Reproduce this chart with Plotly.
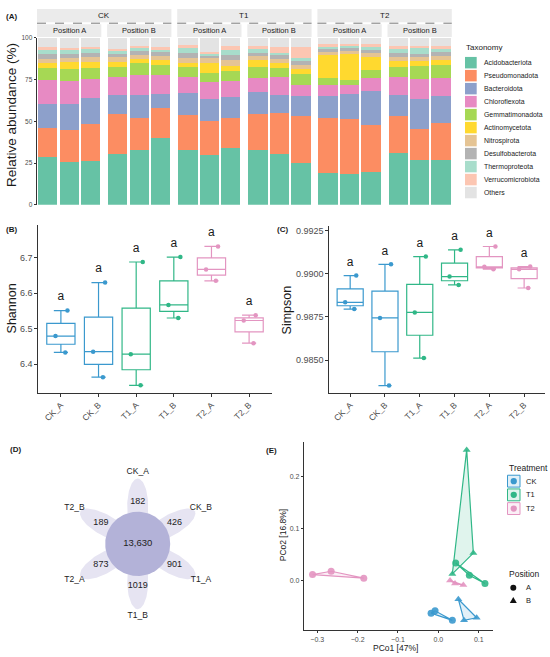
import numpy as np
import plotly.graph_objects as go

W, H = 550, 657
FONT = "Arial, 'Liberation Sans', sans-serif"


def px(x):
    return x / W


def py(y):
    return 1 - y / H


# (A) relative abundance (%), 18 samples: CK/T1/T2 x Position A/B x 3 reps
taxa = ["Acidobacteriota", "Pseudomonadota", "Bacteroidota", "Chloroflexota",
        "Gemmatimonadota", "Actinomycetota", "Nitrospirota", "Desulfobacterota",
        "Thermoproteota", "Verrucomicrobiota", "Others"]
taxa_colors = ["#66C2A5", "#FC8D62", "#8DA0CB", "#E78AC3", "#A6D854", "#FFD92F",
               "#E5C494", "#B3B3B3", "#A8DDCB", "#FCC6B2", "#E3E3E3"]
treatments = ["CK", "T1", "T2"]
positions = ["Position A", "Position B"]

acidobacteriota = [28.8, 25.4, 26.2, 30.2, 32.7, 39.8, 32.9, 29.8, 34.1,
                   32.5, 30.2, 25.0, 19.1, 18.7, 19.5, 31.0, 26.6, 27.0]
pseudomonadota = [17.2, 19.2, 22.1, 24.4, 19.4, 18.0, 21.1, 20.5, 17.8,
                  21.9, 25.0, 28.3, 32.8, 32.4, 28.0, 22.1, 18.6, 22.1]
bacteroidota = [14.4, 15.8, 15.6, 11.3, 13.8, 8.5, 13.1, 13.0, 12.6,
                13.1, 10.3, 11.8, 13.2, 15.2, 20.4, 12.6, 18.3, 15.8]
chloroflexota = [14.2, 13.8, 11.6, 10.4, 11.8, 11.2, 9.4, 10.3, 9.7,
                 8.6, 10.8, 6.7, 6.7, 5.1, 7.8, 11.0, 11.8, 11.0]
gemmatimonadota = [7.3, 7.3, 6.4, 5.9, 6.9, 6.3, 5.7, 5.5, 5.7,
                   6.3, 5.8, 6.7, 3.9, 3.4, 5.0, 5.9, 7.7, 7.5]
actinomycetota = [2.7, 3.9, 3.5, 3.2, 2.6, 2.8, 2.8, 5.5, 3.1,
                  4.0, 2.7, 2.8, 13.8, 15.5, 7.7, 3.6, 3.0, 3.2]
nitrospirota = [2.6, 2.4, 2.8, 2.8, 2.3, 2.4, 3.0, 3.0, 3.6,
                2.4, 2.4, 2.3, 2.0, 2.0, 2.3, 2.4, 2.4, 2.6]
desulfobacterota = [2.8, 2.7, 2.5, 2.3, 2.4, 2.3, 2.7, 1.6, 2.9,
                    2.3, 2.3, 2.4, 1.6, 1.6, 2.0, 2.3, 2.1, 2.3]
thermoproteota = [2.7, 2.6, 2.4, 2.0, 2.0, 2.0, 3.0, 1.3, 3.0,
                  2.4, 1.6, 1.6, 1.6, 1.6, 2.0, 2.4, 3.4, 2.0]
verrucomicrobiota = [1.6, 0.8, 1.2, 1.0, 1.2, 1.0, 2.0, 1.2, 2.2,
                     1.6, 3.2, 6.7, 1.2, 0.8, 1.2, 1.6, 1.2, 1.2]
others = [5.7, 6.1, 5.7, 6.5, 4.9, 5.7, 4.3, 8.3, 5.3,
          4.9, 5.7, 5.7, 4.1, 3.7, 4.1, 5.1, 4.9, 5.3]

abundance = [acidobacteriota, pseudomonadota, bacteroidota, chloroflexota,
             gemmatimonadota, actinomycetota, nitrospirota, desulfobacterota,
             thermoproteota, verrucomicrobiota, others]

# (B)/(C) alpha diversity, 3 reps per group
groups = ["CK_A", "CK_B", "T1_A", "T1_B", "T2_A", "T2_B"]
shannon = [6.551, 6.479, 6.433, 6.630, 6.435, 6.363, 6.688, 6.428, 6.340,
           6.702, 6.567, 6.530, 6.732, 6.667, 6.635, 6.538, 6.523, 6.459]
simpson = [0.98989, 0.98834, 0.98795, 0.99054, 0.98744, 0.98353,
           0.99099, 0.98776, 0.98512, 0.99138, 0.98983, 0.98935,
           0.99157, 0.99040, 0.99026, 0.99041, 0.99025, 0.98917]
letters = ["a", "a", "a", "a", "a", "a"]

# (D) flower plot: unique OTUs per sample group and shared core
venn_names = ["CK_A", "CK_B", "T1_A", "T1_B", "T2_A", "T2_B"]
venn_unique = [182, 426, 901, 1019, 873, 189]
venn_core = 13630

# (E) PCoA
pcoa_treatment = ["CK"] * 6 + ["T1"] * 6 + ["T2"] * 6
pcoa_position = (["A"] * 3 + ["B"] * 3) * 3
pcoa_x = [-0.0181, -0.0082, 0.0346, 0.0495, 0.0635, 0.0948,
          0.0429, 0.0767, 0.1154, 0.0701, 0.0866, 0.0346,
          -0.3116, -0.2655, -0.1847, 0.0289, 0.0412, 0.0618]
pcoa_y = [-0.0620, -0.0576, -0.0759, -0.0354, -0.0759, -0.0709,
          0.0342, 0.0108, -0.0051, 0.2513, 0.0532, 0.0133,
          0.0120, 0.0184, 0.0051, 0.0006, -0.0051, -0.0082]

trt_colors = {"CK": "#3B99CE", "T1": "#30B787", "T2": "#E395C1"}
trt_fill = {"CK": "rgba(59,153,206,0.15)", "T1": "rgba(48,183,135,0.15)",
            "T2": "rgba(227,149,193,0.15)"}

fig = go.Figure()
shapes = []
annotations = []


def label(x, y, text, size, color="#1A1A1A", angle=0, anchor="center", bold=False):
    annotations.append(dict(
        x=px(x), y=py(y), xref="paper", yref="paper", text=f"<b>{text}</b>" if bold else text,
        showarrow=False, xanchor=anchor, yanchor="middle", textangle=angle,
        font=dict(size=size, color=color, family=FONT)))


# ---- (A) stacked bars, one x axis per facet
facet_w, facet_gap, facet_left = 64.3, 5.8, 37.0
for f in range(6):
    xname = "x" if f == 0 else f"x{f + 1}"
    for ti, vals in enumerate(abundance):
        fig.add_trace(go.Bar(
            x=[1, 2, 3], y=vals[3 * f:3 * f + 3], width=0.9,
            xaxis=xname, yaxis="y", name=taxa[ti],
            marker=dict(color=taxa_colors[ti], line=dict(width=0)),
            showlegend=False))

axes = {}
for f in range(6):
    left = facet_left + f * (facet_w + facet_gap)
    key = "xaxis" if f == 0 else f"xaxis{f + 1}"
    axes[key] = dict(domain=[px(left), px(left + facet_w)], range=[0.5, 3.5],
                     anchor="y", visible=False)
    # position strip
    shapes.append(dict(type="rect", xref="paper", yref="paper", x0=px(left), x1=px(left + facet_w),
                       y0=py(33.3), y1=py(20.5), fillcolor="#EBEBEB", line=dict(width=0), layer="below"))
    label(left + facet_w / 2, 27.2, positions[f % 2], 7.5)

for t, trt in enumerate(treatments):
    left = facet_left + 2 * t * (facet_w + facet_gap)
    right = left + 2 * facet_w + facet_gap
    shapes.append(dict(type="rect", xref="paper", yref="paper", x0=px(left), x1=px(right),
                       y0=py(18.5), y1=py(5), fillcolor="#EBEBEB", line=dict(width=0), layer="below"))
    shapes.append(dict(type="line", xref="paper", yref="paper", x0=px(left), x1=px(right),
                       y0=py(19.4), y1=py(19.4), line=dict(color="#555555", width=0.8, dash="dash")))
    label((left + right) / 2, 11.8, trt, 8)

axes["yaxis"] = dict(domain=[py(203), py(34)], range=[0, 100], anchor="x",
                     tickvals=[0, 25, 50, 75, 100], ticks="outside", ticklen=2.5,
                     tickcolor="#333333", showline=True, linecolor="#333333", linewidth=0.8,
                     showgrid=False, zeroline=False,
                     tickfont=dict(size=6.5, color="#4D4D4D", family=FONT))
label(11.7, 112.5, "Relative abundance (%)", 13.5, angle=-90)
label(11.7, 12.7, "(A)", 8, bold=True)

# taxonomy legend
label(464.3, 44.3, "Taxonomy", 8, anchor="left")
for i, (name, col) in enumerate(zip(taxa, taxa_colors)):
    yc = 59.3 + i * 13.13
    shapes.append(dict(type="rect", xref="paper", yref="paper", x0=px(465), x1=px(476.7),
                       y0=py(yc + 5.8), y1=py(yc - 5.8), fillcolor=col, line=dict(width=0)))
    label(481.5, yc, name, 6.9, anchor="left")


# ---- (B) and (C) box plots
def box_panel(values, xa, ya, offset):
    for i, g in enumerate(groups):
        trt = g.split("_")[0]
        vals = values[3 * i:3 * i + 3]
        fig.add_trace(go.Box(
            x=[g] * 3, y=vals, xaxis=xa, yaxis=ya, name=g, width=0.75,
            quartilemethod="inclusive", boxpoints="all", jitter=0.6, pointpos=0,
            line=dict(color=trt_colors[trt], width=1.2), fillcolor="rgba(255,255,255,0)",
            marker=dict(color=trt_colors[trt], size=4.5), showlegend=False))
    tops = [max(values[3 * i:3 * i + 3]) + offset for i in range(6)]
    fig.add_trace(go.Scatter(x=groups, y=tops, mode="text", text=letters, xaxis=xa, yaxis=ya,
                             textfont=dict(size=12, color="#1A1A1A", family=FONT),
                             showlegend=False, hoverinfo="skip"))


box_panel(shannon, "x7", "y2", 0.037)
box_panel(simpson, "x8", "y3", 0.00074)

cat_axis = dict(type="category", categoryorder="array", categoryarray=groups,
                range=[-0.6, 5.6], tickangle=-45, ticks="outside", ticklen=3,
                tickcolor="#333333", showline=True, linecolor="#333333", linewidth=1,
                showgrid=False, zeroline=False,
                tickfont=dict(size=8.5, color="#4D4D4D", family=FONT))
num_axis = dict(ticks="outside", ticklen=3, tickcolor="#333333", showline=True,
                linecolor="#333333", linewidth=1, showgrid=False, zeroline=False,
                tickfont=dict(size=9, color="#4D4D4D", family=FONT))

axes["xaxis7"] = dict(cat_axis, domain=[px(38.3), px(271.7)], anchor="y2")
axes["yaxis2"] = dict(num_axis, domain=[py(393), py(223.5)], anchor="x7",
                      range=[6.319, 6.792], tickvals=[6.4, 6.5, 6.6, 6.7], tickformat=".1f")
axes["xaxis8"] = dict(cat_axis, domain=[px(329.3), px(545)], anchor="y3")
axes["yaxis3"] = dict(num_axis, domain=[py(393), py(224.5)], anchor="x8",
                      range=[0.98311, 0.99275], tickvals=[0.985, 0.9875, 0.99, 0.9925],
                      tickformat=".4f")
label(11.7, 308, "Shannon", 12.5, angle=-90)
label(286.7, 309, "Simpson", 12.5, angle=-90)
label(11.7, 227.7, "(B)", 8, bold=True)
label(282.7, 227.7, "(C)", 8, bold=True)

# ---- (D) flower plot
t = np.linspace(0, 2 * np.pi, 100)
for i, name in enumerate(venn_names):
    ang = np.deg2rad(90 - 60 * i)
    ex, ey = 28 * np.cos(t), 10.5 * np.sin(t)
    xs = 38 * np.cos(ang) + ex * np.cos(ang) - ey * np.sin(ang)
    ys = 38 * np.sin(ang) + ex * np.sin(ang) + ey * np.cos(ang)
    fig.add_trace(go.Scatter(x=xs, y=ys, xaxis="x9", yaxis="y4", mode="lines", fill="toself",
                             fillcolor="#E6E4F2", line=dict(width=0), showlegend=False,
                             hoverinfo="skip"))
fig.add_trace(go.Scatter(x=32.5 * np.cos(t), y=32.5 * np.sin(t), xaxis="x9", yaxis="y4",
                         mode="lines", fill="toself", fillcolor="#B3B2D8", line=dict(width=0),
                         showlegend=False, hoverinfo="skip"))
angs = np.deg2rad(90 - 60 * np.arange(6))
fig.add_trace(go.Scatter(
    x=42.5 * np.cos(angs), y=42.5 * np.sin(angs), xaxis="x9", yaxis="y4", mode="text",
    text=[str(v) for v in venn_unique], textfont=dict(size=9, color="#222222", family=FONT),
    showlegend=False, hoverinfo="skip"))
fig.add_trace(go.Scatter(
    x=73 * np.cos(angs), y=73 * np.sin(angs), xaxis="x9", yaxis="y4", mode="text",
    text=venn_names, textfont=dict(size=8.5, color="#222222", family=FONT),
    showlegend=False, hoverinfo="skip"))
fig.add_trace(go.Scatter(x=[0], y=[0], xaxis="x9", yaxis="y4", mode="text",
                         text=[f"{venn_core:,}"], textfont=dict(size=9.5, color="#222222", family=FONT),
                         showlegend=False, hoverinfo="skip"))
axes["xaxis9"] = dict(domain=[px(37.7), px(237.7)], range=[-100, 100], anchor="y4", visible=False)
axes["yaxis4"] = dict(domain=[py(645.7), py(445.7)], range=[-100, 100], anchor="x9", visible=False)
label(15, 450.7, "(D)", 8, bold=True)

# ---- (E) PCoA
for trt in treatments:
    for pos in ["A", "B"]:
        idx = [k for k in range(18) if pcoa_treatment[k] == trt and pcoa_position[k] == pos]
        xs = [pcoa_x[k] for k in idx] + [pcoa_x[idx[0]]]
        ys = [pcoa_y[k] for k in idx] + [pcoa_y[idx[0]]]
        fig.add_trace(go.Scatter(x=xs, y=ys, xaxis="x10", yaxis="y5", mode="lines",
                                 fill="toself", fillcolor=trt_fill[trt],
                                 line=dict(color=trt_colors[trt], width=1.2),
                                 showlegend=False, hoverinfo="skip"))
        fig.add_trace(go.Scatter(
            x=[pcoa_x[k] for k in idx], y=[pcoa_y[k] for k in idx], xaxis="x10", yaxis="y5",
            mode="markers", showlegend=False,
            marker=dict(color=trt_colors[trt], size=7, opacity=0.9,
                        symbol="circle" if pos == "A" else "triangle-up")))

axes["xaxis10"] = dict(num_axis, domain=[px(304.3), px(493.3)], anchor="y5",
                       range=[-0.332, 0.136], tickvals=[-0.3, -0.2, -0.1, 0.0, 0.1],
                       tickformat=".1f", ticklen=2.5,
                       tickfont=dict(size=7, color="#4D4D4D", family=FONT))
axes["yaxis5"] = dict(num_axis, domain=[py(632.7), py(442.7)], anchor="x10",
                      range=[-0.0943, 0.2665], tickvals=[0.0, 0.1, 0.2],
                      tickformat=".1f", ticklen=2.5,
                      tickfont=dict(size=7, color="#4D4D4D", family=FONT))
label(395, 650.5, "PCo1 [47%]", 8.5)
label(283.3, 536.7, "PCo2 [16.8%]", 8.5, angle=-90)
label(271.5, 451.7, "(E)", 8, bold=True)

# PCoA legends
label(507.3, 469, "Treatment", 8.5, anchor="left")
for i, trt in enumerate(treatments):
    yc = 482.3 + i * 13.85
    shapes.append(dict(type="rect", xref="paper", yref="paper", x0=px(507.5), x1=px(520),
                       y0=py(yc + 6), y1=py(yc - 6), fillcolor=trt_fill[trt],
                       line=dict(color=trt_colors[trt], width=1)))
    shapes.append(dict(type="circle", xref="paper", yref="paper", x0=px(510.6), x1=px(516.9),
                       y0=py(yc + 3.15), y1=py(yc - 3.15), fillcolor=trt_colors[trt],
                       line=dict(width=0)))
    label(524, yc, trt, 7.5, anchor="left")

label(506.7, 575.7, "Position", 8.5, anchor="left")
shapes.append(dict(type="circle", xref="paper", yref="paper", x0=px(510.3), x1=px(516.3),
                   y0=py(593), y1=py(587), fillcolor="#111111", line=dict(width=0)))
tri = f"M {px(513.3)} {py(599.3)} L {px(516.8)} {py(605.5)} L {px(509.8)} {py(605.5)} Z"
shapes.append(dict(type="path", xref="paper", yref="paper", path=tri,
                   fillcolor="#111111", line=dict(width=0)))
label(524, 590, "A", 7.5, anchor="left")
label(524, 602.7, "B", 7.5, anchor="left")

fig.update_layout(
    width=W, height=H, margin=dict(l=0, r=0, t=0, b=0),
    paper_bgcolor="white", plot_bgcolor="white",
    barmode="stack", boxmode="overlay", showlegend=False,
    font=dict(family=FONT, color="#1A1A1A"),
    shapes=shapes, annotations=annotations, **axes)

# drop the default 8px page margin so the figure sits at the window's corner
fig.write_html("out.html", config={"displayModeBar": False},
               post_script="document.body.style.margin = '0px';")
